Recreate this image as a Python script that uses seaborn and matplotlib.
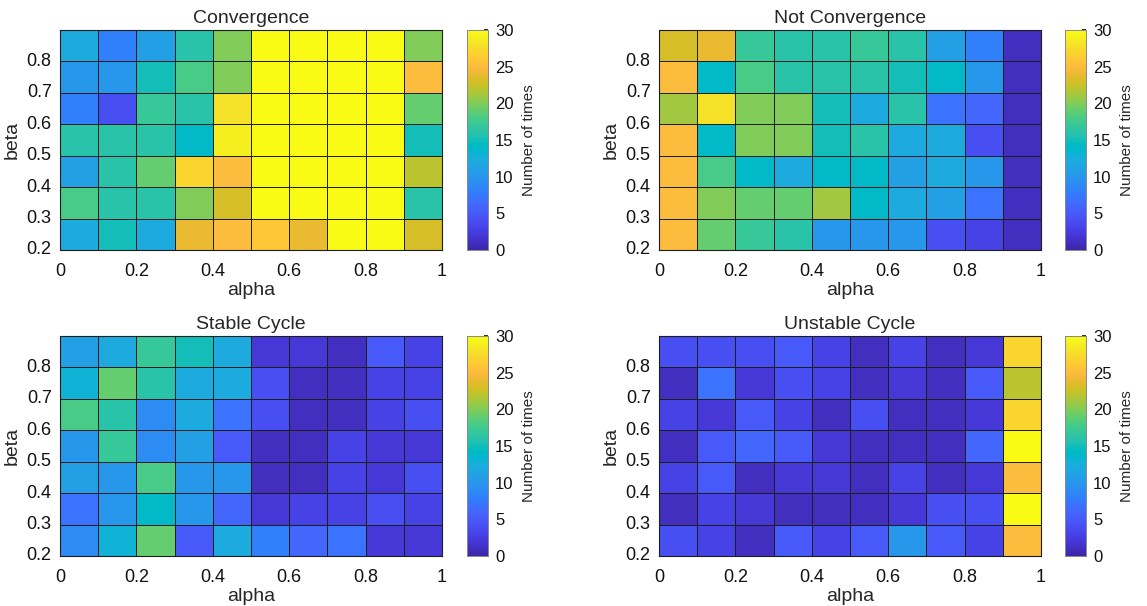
import numpy as np
import pandas as pd
import matplotlib
matplotlib.use("Agg")
import matplotlib.pyplot as plt
import seaborn as sns
from matplotlib.colors import LinearSegmentedColormap

# ---- data: counts per (beta row, alpha column); rows run from beta 0.8-0.9 (top) down to 0.2-0.3
alpha_edges = [0.0, 0.1, 0.2, 0.3, 0.4, 0.5, 0.6, 0.7, 0.8, 0.9]
beta_edges = [0.8, 0.7, 0.6, 0.5, 0.4, 0.3, 0.2]
alpha_ticklabels = ["0", "0.2", "0.4", "0.6", "0.8", "1"]
beta_ticklabels = ["0.8", "0.7", "0.6", "0.5", "0.4", "0.3", "0.2"]

convergence = [
    [12, 8, 11, 16, 20, 30, 30, 30, 30, 20],
    [10, 10, 15, 18, 20, 30, 30, 30, 30, 25],
    [8, 4, 17, 16, 28, 30, 30, 30, 30, 19],
    [16, 16, 16, 14, 29, 30, 30, 30, 30, 15],
    [11, 16, 19, 27, 25, 30, 30, 30, 30, 22],
    [18, 16, 16, 20, 23, 30, 30, 30, 30, 16],
    [12, 15, 12, 24, 25, 26, 24, 30, 30, 23],
]
not_convergence = [
    [23, 24, 17, 16, 16, 17, 16, 11, 8, 1],
    [25, 14, 18, 16, 16, 16, 15, 14, 10, 1],
    [21, 28, 20, 20, 15, 12, 16, 7, 6, 1],
    [25, 14, 20, 20, 15, 16, 12, 12, 4, 1],
    [25, 18, 14, 12, 14, 14, 11, 12, 10, 1],
    [25, 20, 19, 19, 21, 14, 12, 11, 7, 1],
    [25, 19, 17, 16, 10, 10, 10, 4, 3, 1],
]
stable_cycle = [
    [11, 12, 17, 15, 12, 2, 2, 1, 5, 3],
    [13, 19, 16, 12, 12, 4, 1, 1, 3, 3],
    [18, 16, 9, 12, 7, 4, 1, 1, 3, 4],
    [10, 17, 9, 11, 5, 1, 1, 3, 2, 2],
    [11, 10, 18, 10, 10, 1, 1, 3, 2, 4],
    [7, 10, 14, 10, 6, 2, 3, 3, 4, 3],
    [9, 13, 19, 5, 12, 8, 6, 7, 2, 2],
]
unstable_cycle = [
    [4, 4, 4, 5, 3, 1, 3, 1, 2, 27],
    [1, 7, 2, 4, 3, 1, 2, 1, 5, 22],
    [3, 2, 5, 3, 1, 4, 1, 1, 2, 27],
    [1, 5, 6, 5, 2, 1, 1, 1, 6, 30],
    [3, 5, 1, 2, 2, 1, 3, 1, 2, 25],
    [1, 3, 2, 1, 1, 1, 2, 4, 4, 30],
    [4, 3, 1, 5, 3, 5, 10, 5, 3, 25],
]
titles = ["Convergence", "Not Convergence", "Stable Cycle", "Unstable Cycle"]
panels = [convergence, not_convergence, stable_cycle, unstable_cycle]

# ---- parula-style colour map
_parula = [
    (0.2422, 0.1504, 0.6603), (0.2504, 0.1650, 0.7076), (0.2578, 0.1818, 0.7511),
    (0.2647, 0.1978, 0.7952), (0.2706, 0.2147, 0.8364), (0.2751, 0.2342, 0.8710),
    (0.2783, 0.2559, 0.8991), (0.2803, 0.2782, 0.9221), (0.2813, 0.3006, 0.9414),
    (0.2810, 0.3228, 0.9579), (0.2795, 0.3447, 0.9717), (0.2760, 0.3667, 0.9829),
    (0.2699, 0.3892, 0.9906), (0.2602, 0.4123, 0.9952), (0.2440, 0.4358, 0.9988),
    (0.2206, 0.4603, 0.9973), (0.1963, 0.4847, 0.9892), (0.1834, 0.5074, 0.9798),
    (0.1786, 0.5289, 0.9682), (0.1764, 0.5499, 0.9520), (0.1687, 0.5703, 0.9359),
    (0.1540, 0.5902, 0.9218), (0.1460, 0.6091, 0.9079), (0.1380, 0.6276, 0.8973),
    (0.1248, 0.6459, 0.8883), (0.1113, 0.6635, 0.8763), (0.0952, 0.6798, 0.8598),
    (0.0689, 0.6948, 0.8394), (0.0297, 0.7082, 0.8163), (0.0036, 0.7203, 0.7917),
    (0.0067, 0.7312, 0.7660), (0.0433, 0.7411, 0.7394), (0.0964, 0.7500, 0.7120),
    (0.1408, 0.7584, 0.6842), (0.1717, 0.7670, 0.6554), (0.1938, 0.7758, 0.6251),
    (0.2161, 0.7843, 0.5923), (0.2470, 0.7918, 0.5567), (0.2906, 0.7973, 0.5188),
    (0.3406, 0.8008, 0.4789), (0.3909, 0.8029, 0.4354), (0.4456, 0.8024, 0.3909),
    (0.5044, 0.7993, 0.3480), (0.5616, 0.7942, 0.3045), (0.6174, 0.7876, 0.2612),
    (0.6720, 0.7793, 0.2227), (0.7242, 0.7698, 0.1910), (0.7738, 0.7598, 0.1646),
    (0.8203, 0.7498, 0.1535), (0.8634, 0.7406, 0.1596), (0.9035, 0.7330, 0.1774),
    (0.9393, 0.7288, 0.2100), (0.9728, 0.7298, 0.2394), (0.9956, 0.7434, 0.2371),
    (0.9970, 0.7659, 0.2199), (0.9952, 0.7893, 0.2028), (0.9892, 0.8136, 0.1885),
    (0.9786, 0.8386, 0.1766), (0.9676, 0.8639, 0.1643), (0.9610, 0.8890, 0.1537),
    (0.9597, 0.9135, 0.1423), (0.9628, 0.9373, 0.1265), (0.9691, 0.9606, 0.1064),
    (0.9769, 0.9839, 0.0805),
]
parula = LinearSegmentedColormap.from_list("parula", _parula, N=256)

sns.set_theme(style="white")
plt.rcParams["font.family"] = ["Liberation Sans", "DejaVu Sans"]

W, H = 1147, 606
fig = plt.figure(figsize=(W / 100, H / 100), dpi=100)
fig.patch.set_facecolor("white")

ax_lefts = [60, 659]
cb_lefts = [467, 1065]
ax_tops = [30, 336]
ax_w, ax_h, cb_w = 382, 220, 21

for idx, (title, values) in enumerate(zip(titles, panels)):
    r, c = divmod(idx, 2)
    left, top = ax_lefts[c], ax_tops[r]
    ax = fig.add_axes([left / W, 1 - (top + ax_h) / H, ax_w / W, ax_h / H])
    cax = fig.add_axes([cb_lefts[c] / W, 1 - (top + ax_h) / H, cb_w / W, ax_h / H])

    df = pd.DataFrame(values, index=beta_edges, columns=alpha_edges)
    sns.heatmap(df, ax=ax, cmap=parula, vmin=0, vmax=30,
                linewidths=0.7, linecolor="#1e1e1e",
                cbar_ax=cax, cbar_kws={"ticks": [0, 5, 10, 15, 20, 25, 30]})

    ax.set_xticks(np.arange(0, 11, 2))
    ax.set_xticklabels(alpha_ticklabels, rotation=0, fontsize=13)
    ax.set_yticks(np.arange(1, 8))
    ax.set_yticklabels(beta_ticklabels, rotation=0, fontsize=13)
    ax.tick_params(axis="x", length=0, pad=9, colors="#111111")
    ax.tick_params(axis="y", length=0, pad=6, colors="#111111")
    for s in ax.spines.values():
        s.set_visible(True)
        s.set_color("#1e1e1e")
        s.set_linewidth(0.8)
    ax.set_title(title, fontsize=14, pad=5)
    ax.set_xlabel("alpha", fontsize=14, labelpad=2)
    ax.set_ylabel("beta", fontsize=14, labelpad=4)

    cax.tick_params(labelsize=12, direction="in", length=3, colors="#111111", pad=5)
    cax.set_ylabel("Number of times", fontsize=11, labelpad=6)
    for s in cax.spines.values():
        s.set_visible(True)
        s.set_color("#888888")
        s.set_linewidth(0.6)

fig.savefig("out.png", dpi=100, facecolor="white")
